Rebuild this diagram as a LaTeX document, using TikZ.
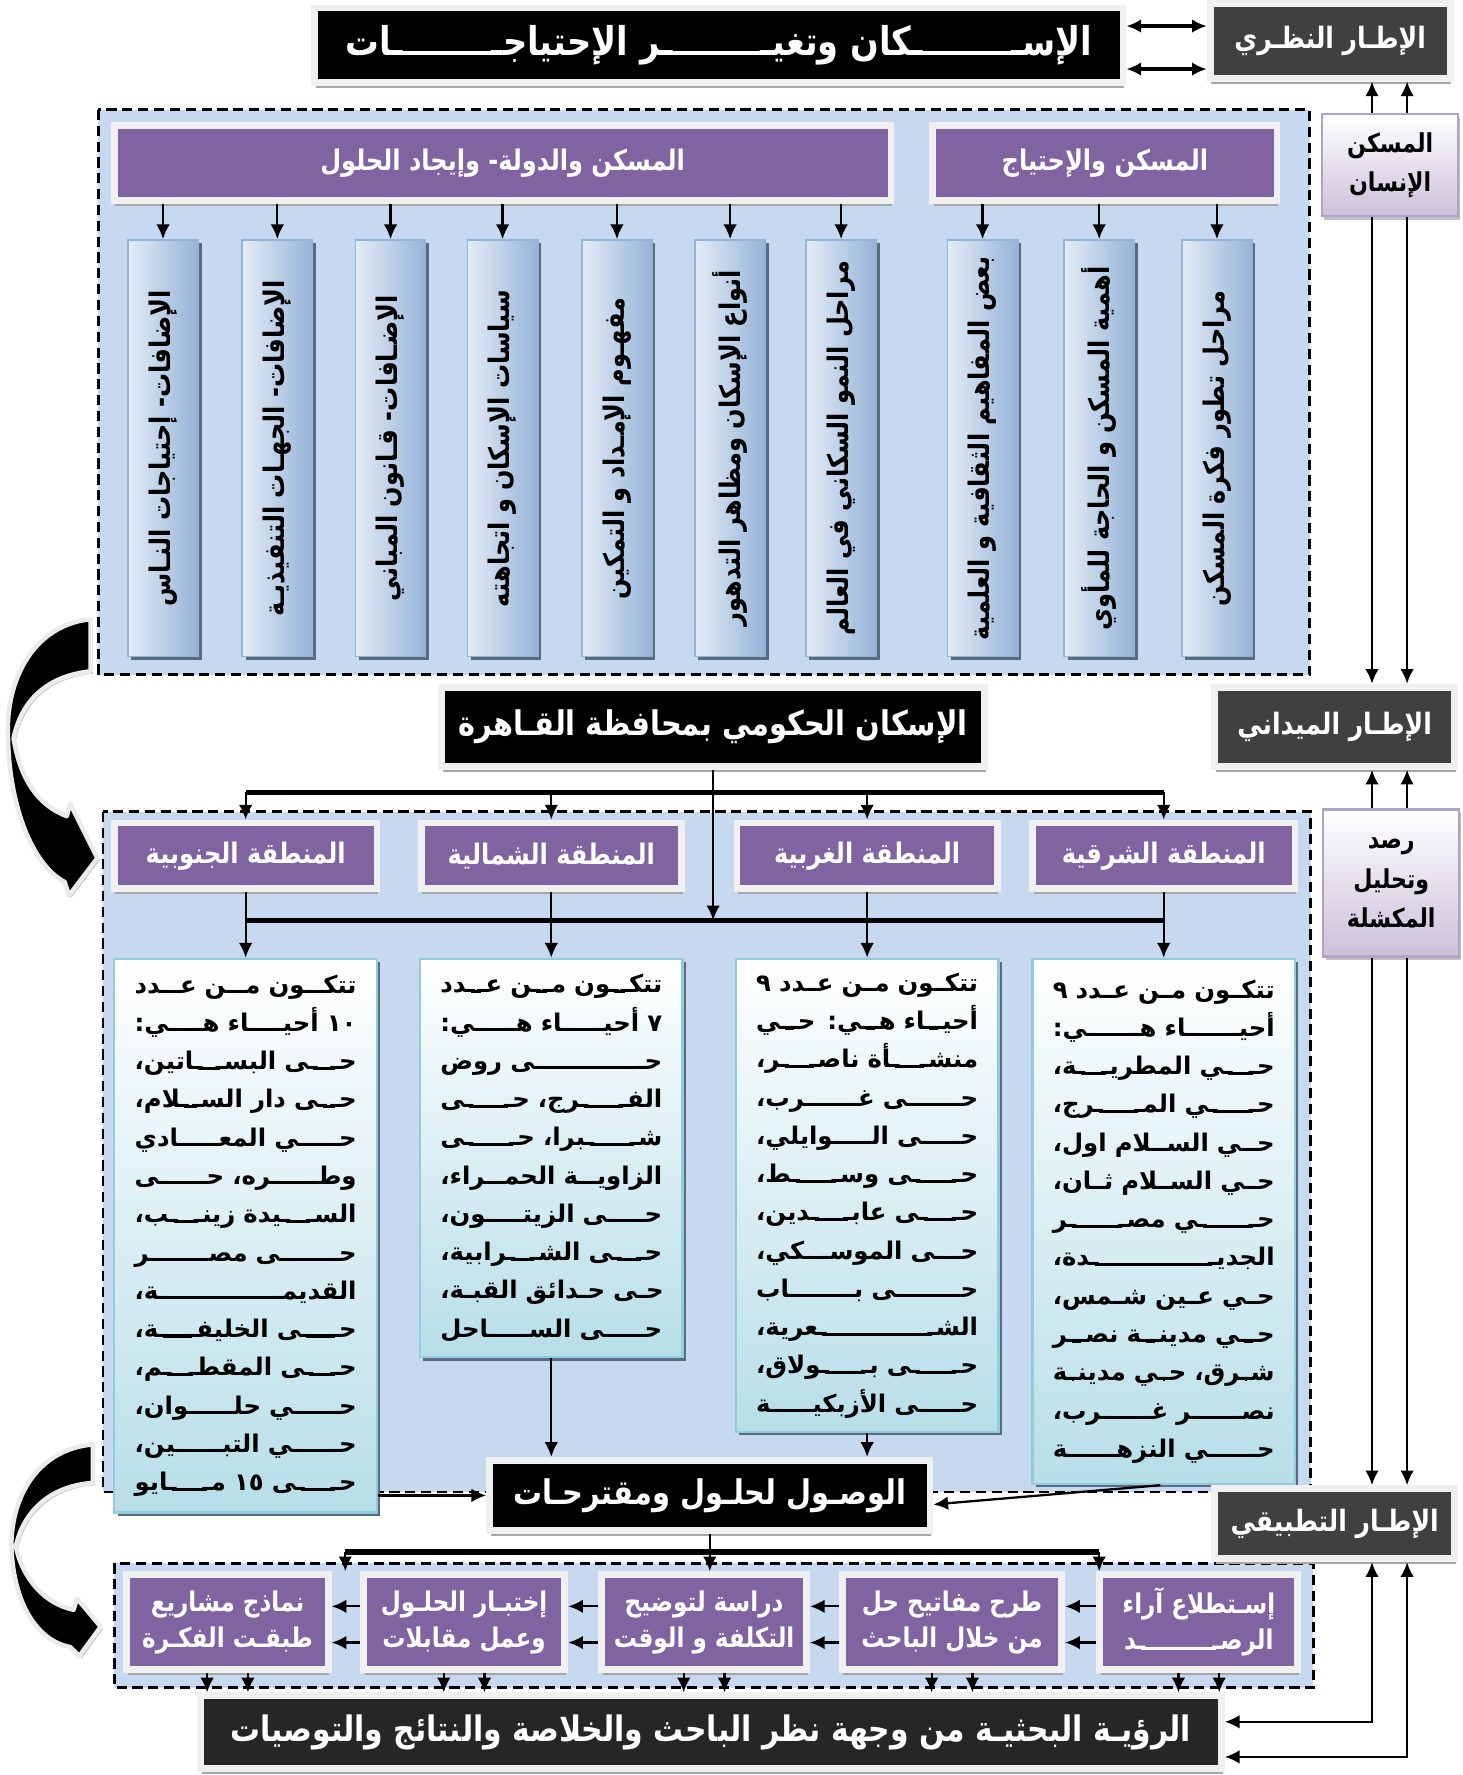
\documentclass[tikz,border=0pt]{standalone}
\usepackage{fontspec}
\usetikzlibrary{arrows.meta,shadows}
\newfontfamily\arabicfont[Script=Arabic]{DejaVu Sans}
\newfontfamily\arabiccond[Script=Arabic,FakeStretch=0.85]{DejaVu Sans}
\TeXXeTstate=1
\XeTeXuseglyphmetrics=1
\definecolor{purp}{HTML}{8064A2}
\definecolor{lightreg}{HTML}{C6D9F1}
\definecolor{boxgrey}{HTML}{404040}
\definecolor{lav}{HTML}{CCC0DA}
\definecolor{lavedge}{HTML}{B3A2C7}
\definecolor{colblue}{HTML}{95B3D7}
\definecolor{colpale}{HTML}{E4ECF7}
\definecolor{aqua}{HTML}{B7DEE8}
\definecolor{aquaedge}{HTML}{93CDDD}
\newcommand\ar[1]{\beginR#1\endR}
\newcommand\kf{ـ\setbox0\hbox{ـ}\kern-.5\wd0\leaders\hrule height\ht0 depth\dp0\hfill\kern-.5\wd0 ـ}
\newcommand\jl[1]{\hbox to \linewidth{\beginR#1\endR}}
\begin{document}
\begin{tikzpicture}[x=1pt,y=-1pt,>={Latex[length=13pt,width=12pt]},
	every node/.style={font=\arabiccond\bfseries, align=center},
	boxframe/.style={draw=black!6, line width=6pt, drop shadow={shadow xshift=1pt,shadow yshift=-5pt,fill=black!35,opacity=1}},
	blackbox/.style={boxframe, fill=black, text=white, font=\arabiccond\bfseries\fontsize{30}{34}\selectfont},
	greybox/.style={boxframe, fill=boxgrey, text=white, minimum width=212pt, minimum height=68pt, font=\arabiccond\bfseries\fontsize{26}{30}\selectfont},
	purplebox/.style={boxframe, fill=purp, text=white, font=\arabiccond\bfseries\fontsize{25}{32}\selectfont},
	lavbox/.style={draw=lavedge, line width=2pt, top color=white, bottom color=lav, minimum width=120pt, font=\arabiccond\bfseries\fontsize{23}{35}\selectfont, drop shadow={shadow xshift=2pt,shadow yshift=-3pt,fill=black!25,opacity=1}},
	colbox/.style={rotate=90, draw=colblue, line width=1.5pt, left color=colpale, right color=colblue, minimum width=368pt, minimum height=62pt, font=\arabiccond\bfseries\fontsize{25}{28}\selectfont, drop shadow={shadow xshift=3pt,shadow yshift=-3pt,fill=colblue!60!black,opacity=1}},
	listbox/.style={anchor=north, draw=aquaedge, line width=2pt, top color=white, bottom color=aqua, text width=196pt, inner xsep=18pt, font=\arabicfont\bfseries\fontsize{21.5}{33.8}\selectfont, drop shadow={shadow xshift=3pt,shadow yshift=-3pt,fill=colblue!60!black,opacity=1}},
	region/.style={draw=black, line width=2.5pt, dash pattern=on 9pt off 5pt, fill=lightreg},
	arr/.style={->, line width=2pt},
	twoway/.style={<->, line width=3pt},
	bar/.style={line width=4.5pt},
	curl/.style={fill=black, draw=black!8, line width=4pt, line join=round, drop shadow={shadow xshift=2pt,shadow yshift=-2pt,fill=black!25,opacity=1}}]
	\useasboundingbox (0,0) rectangle (1292,1568);

	% dashed regions
	\draw[region] (87,97) rectangle (1157,596);
	\draw[region] (91,717) rectangle (1158,1318);
	\draw[region] (101,1381) rectangle (1160,1491);

	% curved arrows on the left
	\draw[curl] (80,547) .. controls (30,552) and (5,600) .. (7,650) .. controls (8,715) and (30,765) .. (57,779) -- (61,791) -- (86,758) -- (62,710) -- (59,721) .. controls (35,712) and (18,690) .. (12,652) .. controls (20,615) and (45,597) .. (80,593) -- cycle;
	\draw[curl] (82,1276) .. controls (35,1280) and (10,1320) .. (10,1366) .. controls (12,1420) and (35,1450) .. (62,1455) -- (70,1463) -- (89,1437) -- (68,1412) -- (65,1422) .. controls (40,1417) and (20,1395) .. (14,1366) .. controls (22,1330) and (50,1312) .. (82,1310) -- cycle;

	% theory part
	\node[blackbox, minimum width=714pt, minimum height=66pt, font=\arabiccond\bfseries\fontsize{35}{38}\selectfont] (title) at (635,40) {\hbox to 660pt{\beginR الإس\kf كان وتغي\kf ر الإحتياج\kf ات\endR}};
	\node[greybox, minimum height=66pt] (nazari) at (1175,36) {\ar{الإطـار النظـري}};
	\node[lavbox, minimum height=90pt] (insan) at (1228,146) {\ar{المسكن}\\\ar{الإنسان}};
	\node[purplebox, minimum width=686pt, minimum height=66pt] (head1) at (444,144) {\ar{المسكن والدولة- وإيجاد الحلول}};
	\node[purplebox, minimum width=304pt, minimum height=66pt] (head2) at (976,144) {\ar{المسكن والإحتياج}};

	\node[colbox] (c1) at (144,396) {\ar{الإضافات- إحتياجات النـاس}};
	\node[colbox] (c2) at (245,396) {\ar{الإضافات- الجهـات التنفيذيـة}};
	\node[colbox] (c3) at (345,396) {\ar{الإضـافات- قـانون المباني}};
	\node[colbox] (c4) at (444,396) {\ar{سياسات الإسكان و اتجاهته}};
	\node[colbox] (c5) at (545,396) {\ar{مفهـوم الإمـداد و التمكين}};
	\node[colbox] (c6) at (645,396) {\ar{أنواع الإسكان ومظاهر التدهور}};
	\node[colbox] (c7) at (743,396) {\ar{مراحل النمو السكاني في العالم}};
	\node[colbox] (c8) at (868,396) {\ar{بعض المفاهيم الثقافية و العلمية}};
	\node[colbox] (c9) at (971,396) {\ar{أهمية المسكن و الحاجة للمأوي}};
	\node[colbox] (c10) at (1075,396) {\ar{مراحل تطور فكرة المسكن}};
	\foreach \c in {c1,c2,c3,c4,c5,c6,c7}
		\draw[arr] (\c.east |- head1.south) -- (\c.east);
	\foreach \c in {c8,c9,c10}
		\draw[arr] (\c.east |- head2.south) -- (\c.east);

	% field part
	\node[blackbox, minimum width=480pt, minimum height=70pt] (hukumi) at (630,642) {\ar{الإسكان الحكومي بمحافظة القـاهرة}};
	\node[greybox, minimum height=70pt] (maidani) at (1179,642) {\ar{الإطـار الميداني}};
	\node[lavbox, minimum height=130pt] (rasd) at (1229,780) {\ar{رصد}\\\ar{وتحليل}\\\ar{المكشلة}};

	\node[purplebox, minimum width=232pt, minimum height=58pt] (janhead) at (217,756) {\ar{المنطقة الجنوبية}};
	\node[purplebox, minimum width=230pt, minimum height=58pt] (shamhead) at (487,756) {\ar{المنطقة الشمالية}};
	\node[purplebox, minimum width=230pt, minimum height=58pt] (gharbhead) at (766,756) {\ar{المنطقة الغربية}};
	\node[purplebox, minimum width=232pt, minimum height=58pt] (sharqhead) at (1028,756) {\ar{المنطقة الشرقية}};

	\coordinate (topbar) at (630,700);
	\coordinate (lowbar) at (630,813);
	\draw[bar] (janhead |- topbar) -- (sharqhead |- topbar);
	\draw[bar] (janhead |- lowbar) -- (sharqhead |- lowbar);
	\draw[arr] (hukumi.south) -- (lowbar);
	\foreach \n in {janhead,shamhead,gharbhead,sharqhead}
		\draw[arr] (\n |- topbar) -- (\n.north);

	\node[listbox, minimum height=489pt] (janlist) at (217,846) {%
		\jl{تتك\kf ون م\kf ن ع\kf دد}
		\jl{١٠ أحي\kf اء ه\kf ي:}
		\jl{ح\kf ى البس\kf اتين،}
		\jl{ح\kf ى دار الس\kf لام،}
		\jl{ح\kf ي المع\kf ادي}
		\jl{وط\kf ره، ح\kf ى}
		\jl{الس\kf يدة زين\kf ب،}
		\jl{ح\kf ى مص\kf ر}
		\jl{القديم\kf ة،}
		\jl{ح\kf ى الخليف\kf ة،}
		\jl{ح\kf ى المقط\kf م،}
		\jl{ح\kf ي حل\kf وان،}
		\jl{ح\kf ي التب\kf ين،}
		\jl{ح\kf ى ١٥ م\kf ايو}};
	\node[listbox, minimum height=352pt] (shamlist) at (487,846) {%
		\jl{تتك\kf ون م\kf ن ع\kf دد}
		\jl{٧ أحي\kf اء ه\kf ي:}
		\jl{ح\kf ى روض}
		\jl{الف\kf رج، ح\kf ى}
		\jl{ش\kf برا، ح\kf ى}
		\jl{الزاوي\kf ة الحم\kf راء،}
		\jl{ح\kf ى الزيت\kf ون،}
		\jl{ح\kf ى الش\kf رابية،}
		\jl{ح\kf ى ح\kf دائق القب\kf ة،}
		\jl{ح\kf ى الس\kf احل}};
	\node[listbox, minimum height=418pt] (gharblist) at (766,846) {%
		\jl{تتك\kf ون م\kf ن ع\kf دد ٩}
		\jl{أحي\kf اء ه\kf ي: ح\kf ي}
		\jl{منش\kf أة ناص\kf ر،}
		\jl{ح\kf ى غ\kf رب،}
		\jl{ح\kf ى ال\kf وايلي،}
		\jl{ح\kf ى وس\kf ط،}
		\jl{ح\kf ى عاب\kf دين،}
		\jl{ح\kf ى الموس\kf كي،}
		\jl{ح\kf ى ب\kf اب}
		\jl{الش\kf عرية،}
		\jl{ح\kf ى ب\kf ولاق،}
		\jl{ح\kf ى الأزبكي\kf ة}};
	\node[listbox, minimum height=464pt] (sharqlist) at (1028,846) {%
		\jl{تتك\kf ون م\kf ن ع\kf دد ٩}
		\jl{أحي\kf اء ه\kf ي:}
		\jl{ح\kf ي المطري\kf ة،}
		\jl{ح\kf ي الم\kf رج،}
		\jl{ح\kf ي الس\kf لام اول،}
		\jl{ح\kf ي الس\kf لام ث\kf ان،}
		\jl{ح\kf ي مص\kf ر}
		\jl{الجدي\kf دة،}
		\jl{ح\kf ي ع\kf ين ش\kf مس،}
		\jl{ح\kf ي مدين\kf ة نص\kf ر}
		\jl{ش\kf رق، ح\kf ي مدين\kf ة}
		\jl{نص\kf ر غ\kf رب،}
		\jl{ح\kf ي النزه\kf ة}};
	\foreach \n/\m in {janhead/janlist,shamhead/shamlist,gharbhead/gharblist,sharqhead/sharqlist}
		\draw[arr] (\n.south) -- (\m.north);

	\node[blackbox, minimum width=389pt, minimum height=62pt] (wusul) at (627,1321) {\ar{الوصـول لحلـول ومقترحـات}};
	\draw[arr] (shamlist.south) -- (shamlist.south |- wusul.north);
	\draw[arr] (gharblist.south) -- (gharblist.south |- wusul.north);
	\draw[arr] (janlist.east |- wusul.west) -- (wusul.west);
	\draw[arr] ([xshift=-3pt]sharqlist.south) -- ([yshift=-8pt]wusul.east);

	% applied part
	\node[greybox, minimum height=62pt] (tatbiqi) at (1179,1346) {\ar{الإطـار التطبيقي}};
	\node[purplebox, minimum width=178pt, minimum height=84pt, font=\arabiccond\bfseries\fontsize{24}{32}\selectfont] (namadhij) at (201,1433) {\ar{نماذج مشاريع}\\\ar{طبقـت الفكـرة}};
	\node[purplebox, minimum width=178pt, minimum height=84pt, font=\arabiccond\bfseries\fontsize{24}{32}\selectfont] (ikhtibar) at (410,1433) {\ar{إختبـار الحلـول}\\\ar{وعمل مقابلات}};
	\node[purplebox, minimum width=181pt, minimum height=84pt, font=\arabiccond\bfseries\fontsize{24}{32}\selectfont] (dirasa) at (622,1433) {\ar{دراسة لتوضيح}\\\ar{التكلفة و الوقت}};
	\node[purplebox, minimum width=194pt, minimum height=84pt, font=\arabiccond\bfseries\fontsize{24}{32}\selectfont] (tarh) at (841,1433) {\ar{طرح مفاتيح حل}\\\ar{من خلال الباحث}};
	\node[purplebox, minimum width=175pt, minimum height=84pt, font=\arabiccond\bfseries\fontsize{24}{32}\selectfont] (istitla) at (1059,1433) {\ar{إسـتطلاع آراء}\\\hbox to 132pt{\beginR الرص\kf د\endR}};
	\node[blackbox, fill=black!85, minimum width=902pt, minimum height=64pt, font=\arabiccond\bfseries\fontsize{31}{34}\selectfont] (final) at (628,1530) {\ar{الرؤيـة البحثيـة من وجهة نظر الباحث والخلاصة والنتائج والتوصيات}};

	\coordinate (botbar) at (627,1371);
	\coordinate (botbarl) at (305,1371);
	\coordinate (botbarr) at (971,1371);
	\draw[bar] (botbarl) -- (botbarr);
	\draw[line width=2pt] (wusul.south) -- (botbar);
	\draw[arr] (botbarl) -- (botbarl |- ikhtibar.north);
	\draw[arr] (botbar) -- (botbar |- dirasa.north);
	\draw[arr] (botbarr) -- (botbarr |- istitla.north);
	\foreach \a/\b in {istitla/tarh,tarh/dirasa,dirasa/ikhtibar,ikhtibar/namadhij}{
		\draw[arr] ([yshift=14pt]\a.west) -- ([yshift=14pt]\b.east);
		\draw[arr] ([yshift=-18pt]\a.west) -- ([yshift=-18pt]\b.east);
	}
	\foreach \a in {namadhij,ikhtibar,dirasa,tarh,istitla}{
		\draw[arr] ([xshift=-18pt]\a.south) -- ([xshift=-18pt]\a.south |- final.north);
		\draw[arr] ([xshift=18pt]\a.south) -- ([xshift=18pt]\a.south |- final.north);
	}

	% links on the right side
	\draw[twoway] ([yshift=17pt]title.east) -- ([yshift=17pt]title.east -| nazari.west);
	\draw[twoway] ([yshift=-21pt]title.east) -- ([yshift=-21pt]title.east -| nazari.west);
	\coordinate (railA) at (1212,0);
	\coordinate (railB) at (1243,0);
	\foreach \r in {railA,railB}{
		\draw[arr] (\r |- insan.north) -- (\r |- nazari.south);
		\draw[arr] (\r |- insan.south) -- (\r |- maidani.north);
		\draw[arr] (\r |- rasd.north) -- (\r |- maidani.south);
		\draw[arr] (\r |- rasd.south) -- (\r |- tatbiqi.north);
	}
	\draw[arr,<->] (railA |- tatbiqi.south) |- ([yshift=9pt]final.east);
	\draw[arr,<->] (railB |- tatbiqi.south) |- ([yshift=-22pt]final.east);
\end{tikzpicture}
\end{document}
